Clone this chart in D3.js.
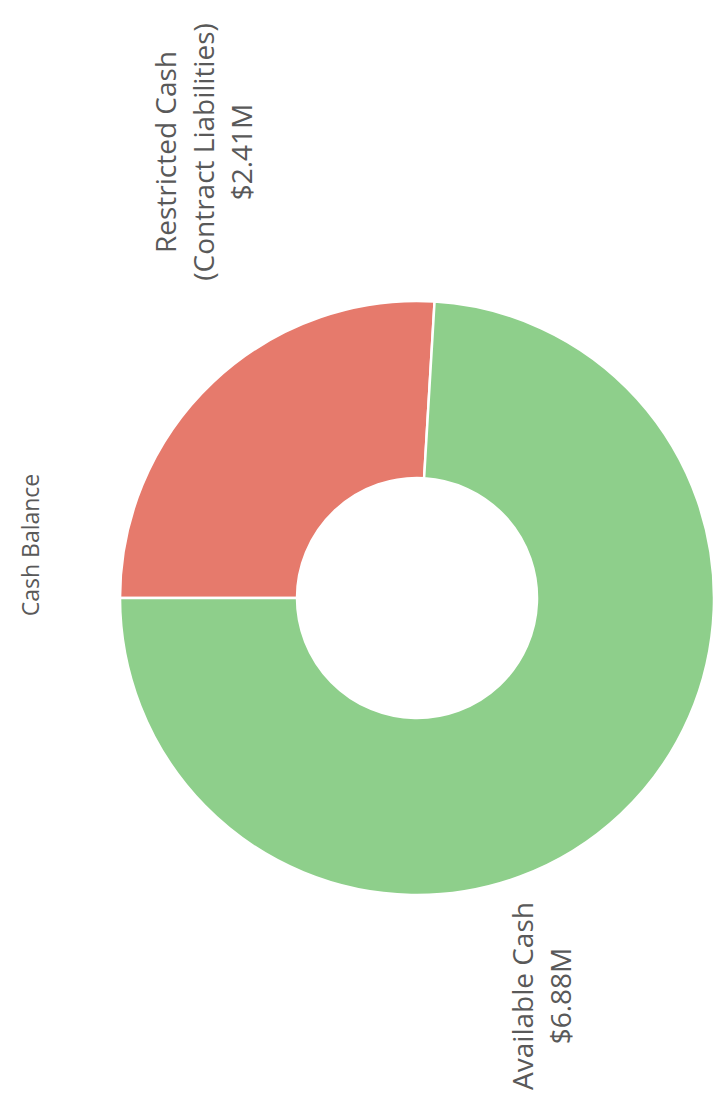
<!DOCTYPE html>
<html>
<head>
<meta charset="utf-8">
<script src="https://cdnjs.cloudflare.com/ajax/libs/d3/7.8.5/d3.min.js"></script>
<style>
  html, body { margin: 0; padding: 0; background: #fff; }
  svg text { font-family: "Open Sans", Lato, sans-serif; fill: #595959; }
</style>
</head>
<body>
<div id="chart"></div>
<script>
// ------------------------------------------------------------------
//	cash balance donut (page is turned a quarter left)
// ------------------------------------------------------------------
const title = "Cash Balance"
const categories = ["Restricted Cash", "Available Cash"]
const sub_lines = [["(Contract Liabilities)"], []]
const values = [2.41, 6.88]
const colors = ["#e67a6c", "#8ecf8b"]

const width = 715
const height = 1112

// centre and radii of the ring
const cx = 417, cy = 598
const outer_r = 297, inner_r = 120

// label anchors (centre of the text block, before turning)
const label_pos = [
	{x: 176, y: 152},
	{x: 533, y: 996}
]
const line_gap = 38

const svg = d3.select("#chart").append("svg")
	.attr("width", width)
	.attr("height", height)

// pie starts at 9 o'clock since the whole chart is turned
const pie = d3.pie()
	.sort(null)
	.startAngle(-Math.PI / 2)
	.endAngle(3 * Math.PI / 2)

const arc = d3.arc()
	.innerRadius(inner_r)
	.outerRadius(outer_r)

const data = categories.map(function(c, i) {
	return {name: c, value: values[i], color: colors[i], sub: sub_lines[i]}
})

const g = svg.append("g")
	.attr("transform", "translate(" + cx + "," + cy + ")")

g.selectAll("path")
	.data(pie.value(function(d) { return d.value })(data))
	.enter().append("path")
	.attr("d", arc)
	.attr("fill", function(d) { return d.data.color })
	.attr("stroke", "#fff")
	.attr("stroke-width", 2.5)

// title
svg.append("text")
	.attr("transform", "translate(39,545) rotate(-90)")
	.attr("text-anchor", "middle")
	.style("font-size", "23px")
	.text(title)

// data labels
const fmt = d3.format("$.2f")
data.forEach(function(d, i) {
	const lines = [d.name].concat(d.sub).concat([fmt(d.value) + "M"])
	const lg = svg.append("g")
		.attr("transform", "translate(" + label_pos[i].x + "," + label_pos[i].y + ") rotate(-90)")
	lg.selectAll("text")
		.data(lines)
		.enter().append("text")
		.attr("x", 0)
		.attr("y", function(t, k) { return k * line_gap })
		.attr("text-anchor", "middle")
		.style("font-size", "28px")
		.text(function(t) { return t })
})
</script>
</body>
</html>
